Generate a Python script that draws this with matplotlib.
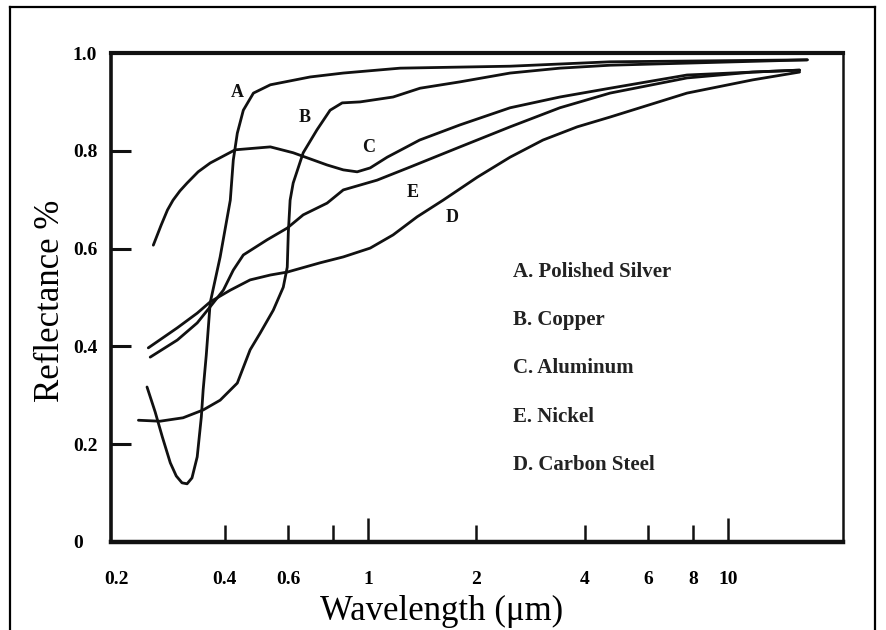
import matplotlib
matplotlib.use('Agg')
import matplotlib.pyplot as plt
from matplotlib.lines import Line2D
from matplotlib.ticker import FixedLocator, FixedFormatter, NullLocator

# values: wavelength (um) vs reflectance
silver_wl = [0.243, 0.256, 0.268, 0.282, 0.293, 0.304, 0.314, 0.324, 0.335, 0.344, 0.348, 0.355, 0.364,
             0.388, 0.414, 0.422, 0.433, 0.450, 0.480, 0.535, 0.690, 0.853, 1.227, 2.48, 4.70, 16.6]
silver_r = [0.317, 0.266, 0.215, 0.162, 0.135, 0.121, 0.119, 0.131, 0.174, 0.256, 0.311, 0.382, 0.489,
            0.583, 0.699, 0.781, 0.836, 0.883, 0.918, 0.935, 0.951, 0.959, 0.969, 0.973, 0.982, 0.986]

copper_wl = [0.230, 0.264, 0.306, 0.348, 0.388, 0.433, 0.470, 0.501, 0.545, 0.581, 0.596, 0.600, 0.607,
             0.619, 0.660, 0.721, 0.784, 0.847, 0.950, 1.173, 1.394, 1.80, 2.48, 3.41, 4.70, 16.6]
copper_r = [0.249, 0.247, 0.254, 0.270, 0.290, 0.325, 0.393, 0.427, 0.474, 0.521, 0.562, 0.632, 0.699,
            0.734, 0.796, 0.843, 0.883, 0.898, 0.900, 0.910, 0.928, 0.941, 0.959, 0.969, 0.975, 0.986]

aluminum_wl = [0.253, 0.266, 0.277, 0.287, 0.300, 0.314, 0.337, 0.364, 0.427, 0.535, 0.619, 0.769, 0.853,
               0.932, 1.013, 1.13, 1.28, 1.39, 1.80, 2.48, 3.41, 4.70, 7.69, 11.7, 15.8]
aluminum_r = [0.607, 0.648, 0.679, 0.699, 0.718, 0.734, 0.757, 0.775, 0.802, 0.808, 0.796, 0.771, 0.761,
              0.757, 0.765, 0.787, 0.808, 0.822, 0.853, 0.888, 0.910, 0.928, 0.955, 0.961, 0.965]

nickel_wl = [0.248, 0.295, 0.335, 0.364, 0.396, 0.422, 0.450, 0.524, 0.596, 0.660, 0.769,
             0.853, 1.059, 1.31, 1.80, 2.48, 3.41, 4.70, 7.69, 11.7, 15.8]
nickel_r = [0.378, 0.413, 0.448, 0.481, 0.515, 0.556, 0.587, 0.618, 0.642, 0.669, 0.693,
            0.720, 0.740, 0.767, 0.808, 0.849, 0.888, 0.918, 0.949, 0.961, 0.965]

steel_wl = [0.245, 0.295, 0.335, 0.364, 0.414, 0.470, 0.535, 0.596, 0.736, 0.853, 1.013,
            1.173, 1.368, 1.615, 2.01, 2.48, 3.06, 3.81, 4.70, 7.69, 11.7, 15.8]
steel_r = [0.397, 0.438, 0.468, 0.491, 0.515, 0.536, 0.546, 0.552, 0.571, 0.583, 0.601,
           0.628, 0.665, 0.699, 0.746, 0.787, 0.822, 0.849, 0.869, 0.918, 0.945, 0.961]

curve_letters = ['A', 'B', 'C', 'E', 'D']
legend_labels = ['A. Polished Silver', 'B. Copper', 'C. Aluminum', 'E. Nickel', 'D. Carbon Steel']

x_ticks = [0.2, 0.4, 0.6, 0.8, 1, 2, 4, 6, 8, 10]
x_ticklabels = ['0.2', '0.4', '0.6', '', '1', '2', '4', '6', '8', '10']
y_ticks = [0, 0.2, 0.4, 0.6, 0.8, 1.0]
y_ticklabels = ['0', '0.2', '0.4', '0.6', '0.8', '1.0']

serif = 'Liberation Serif'
ink = '#111111'

fig = plt.figure(figsize=(8.86, 6.3), dpi=100)
ax = fig.add_axes([111 / 886, 88 / 630, 732 / 886, 489 / 630])

for wl, r in [(silver_wl, silver_r), (copper_wl, copper_r), (aluminum_wl, aluminum_r),
              (nickel_wl, nickel_r), (steel_wl, steel_r)]:
    ax.plot(wl, r, color=ink, lw=2.0, solid_capstyle='round', solid_joinstyle='round')

ax.set_xscale('log')
ax.set_xlim(0.193, 20.86)
ax.set_ylim(0, 1.0)

ax.xaxis.set_major_locator(FixedLocator(x_ticks))
ax.xaxis.set_major_formatter(FixedFormatter(x_ticklabels))
ax.xaxis.set_minor_locator(NullLocator())
ax.set_yticks(y_ticks)
ax.set_yticklabels(y_ticklabels)

ax.tick_params(axis='x', direction='in', length=12, width=1.8, pad=21, color=ink,
               labelsize=14)
ax.tick_params(axis='y', direction='in', length=14.5, width=2.2, pad=27.5, color=ink,
               labelsize=14)
for lbl in ax.get_xticklabels() + ax.get_yticklabels():
    lbl.set_fontfamily(serif)
    lbl.set_fontweight('bold')
for lbl in ax.get_yticklabels():
    lbl.set_ha('left')

xt = ax.xaxis.get_major_ticks()
xt[0].tick1line.set_visible(False)
for i in (4, 9):
    xt[i].tick1line.set_markersize(17)
yt = ax.yaxis.get_major_ticks()
yt[0].tick1line.set_visible(False)
yt[-1].tick1line.set_visible(False)

for side, w in [('top', 3.0), ('bottom', 3.2), ('left', 2.6), ('right', 1.8)]:
    ax.spines[side].set_linewidth(w)
    ax.spines[side].set_color(ink)

ax.set_xlabel('Wavelength (μm)', fontfamily=serif, fontsize=25)
ax.xaxis.label.set_va('center')
ax.xaxis.set_label_coords(0.452, -0.143)
ax.set_ylabel('Reflectance %', fontfamily=serif, fontsize=25)
ax.yaxis.label.set_va('center')
ax.yaxis.set_label_coords(-0.082, 0.493)

# letters next to the curves
letter_pos = [(0.433, 0.920), (0.668, 0.869), (1.0, 0.806), (1.334, 0.714), (1.711, 0.663)]
for letter, (lx, ly) in zip(curve_letters, letter_pos):
    ax.text(lx, ly, letter, fontfamily=serif, fontweight='bold', fontsize=13,
            ha='center', va='center', color=ink)

# key written inside the plot
for i, lab in enumerate(legend_labels):
    ax.text(2.53, 0.552 - i * 0.0985, lab, fontfamily=serif, fontweight='bold', fontsize=15,
            ha='left', va='center', color='#222222')

# outer frame of the figure
for xs, ys in [([10, 10], [0, 623]), ([10, 875], [623, 623]), ([875, 875], [0, 623])]:
    fig.add_artist(Line2D([x / 886 for x in xs], [y / 630 for y in ys], color='black', lw=1.6))

fig.savefig('out.png', dpi=100)
